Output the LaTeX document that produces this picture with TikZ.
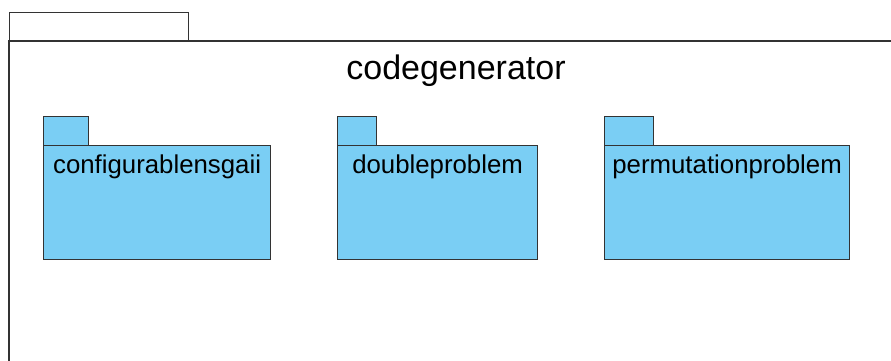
\documentclass[tikz,border=0pt]{standalone}
\usepackage{fontspec}
\setmainfont{Liberation Sans}
\usetikzlibrary{calc}
\definecolor{pkgfill}{HTML}{7ACEF4}
\definecolor{pkgline}{HTML}{333333}
\tikzset{
  pkgtab/.style={draw=pkgline, fill=pkgfill, line width=1.2pt, inner sep=0pt, anchor=north west},
  pkgbody/.style={draw=pkgline, fill=pkgfill, line width=1.2pt, inner sep=0pt, anchor=north west},
  pkglabel/.style={anchor=base, inner sep=0pt, font=\fontsize{25.8}{30}\selectfont},
  outerline/.style={draw=pkgline, line width=1.4pt},
}
\begin{document}
\begin{tikzpicture}[x=1pt,y=-1pt]
\useasboundingbox (0,0) rectangle (891,360);
\clip (0,0) rectangle (891,360);
\fill[white] (0,0) rectangle (891,360);

% outer package: tab and body (body runs past the page edges)
\node[outerline, anchor=north west, minimum width=179pt, minimum height=29pt, inner sep=0pt] (outertab) at (9,12) {};
\coordinate (obl) at (9,370);
\coordinate (otl) at (9,41);
\coordinate (otr) at (900,41);
\draw[outerline] (obl) -- (otl) -- (otr);
\node[anchor=base, inner sep=0pt, font=\fontsize{34}{40}\selectfont] (title) at (456,79) {codegenerator};

% configurablensgaii
\node[pkgtab, minimum width=45pt, minimum height=29pt] (t1) at (43,116) {};
\node[pkgbody, minimum width=227pt, minimum height=114pt] (b1) at (43,145) {};
\node[pkglabel] (l1) at ($(b1.north)+(0,28)$) {configurablensgaii};

% doubleproblem
\node[pkgtab, minimum width=39pt, minimum height=29pt] (t2) at (337,116) {};
\node[pkgbody, minimum width=200pt, minimum height=114pt] (b2) at (337,145) {};
\node[pkglabel] (l2) at ($(b2.north)+(0,28)$) {doubleproblem};

% permutationproblem
\node[pkgtab, minimum width=49pt, minimum height=29pt] (t3) at (604,116) {};
\node[pkgbody, minimum width=245pt, minimum height=114pt] (b3) at (604,145) {};
\node[pkglabel] (l3) at ($(b3.north)+(0,28)$) {permutationproblem};
\end{tikzpicture}
\end{document}
